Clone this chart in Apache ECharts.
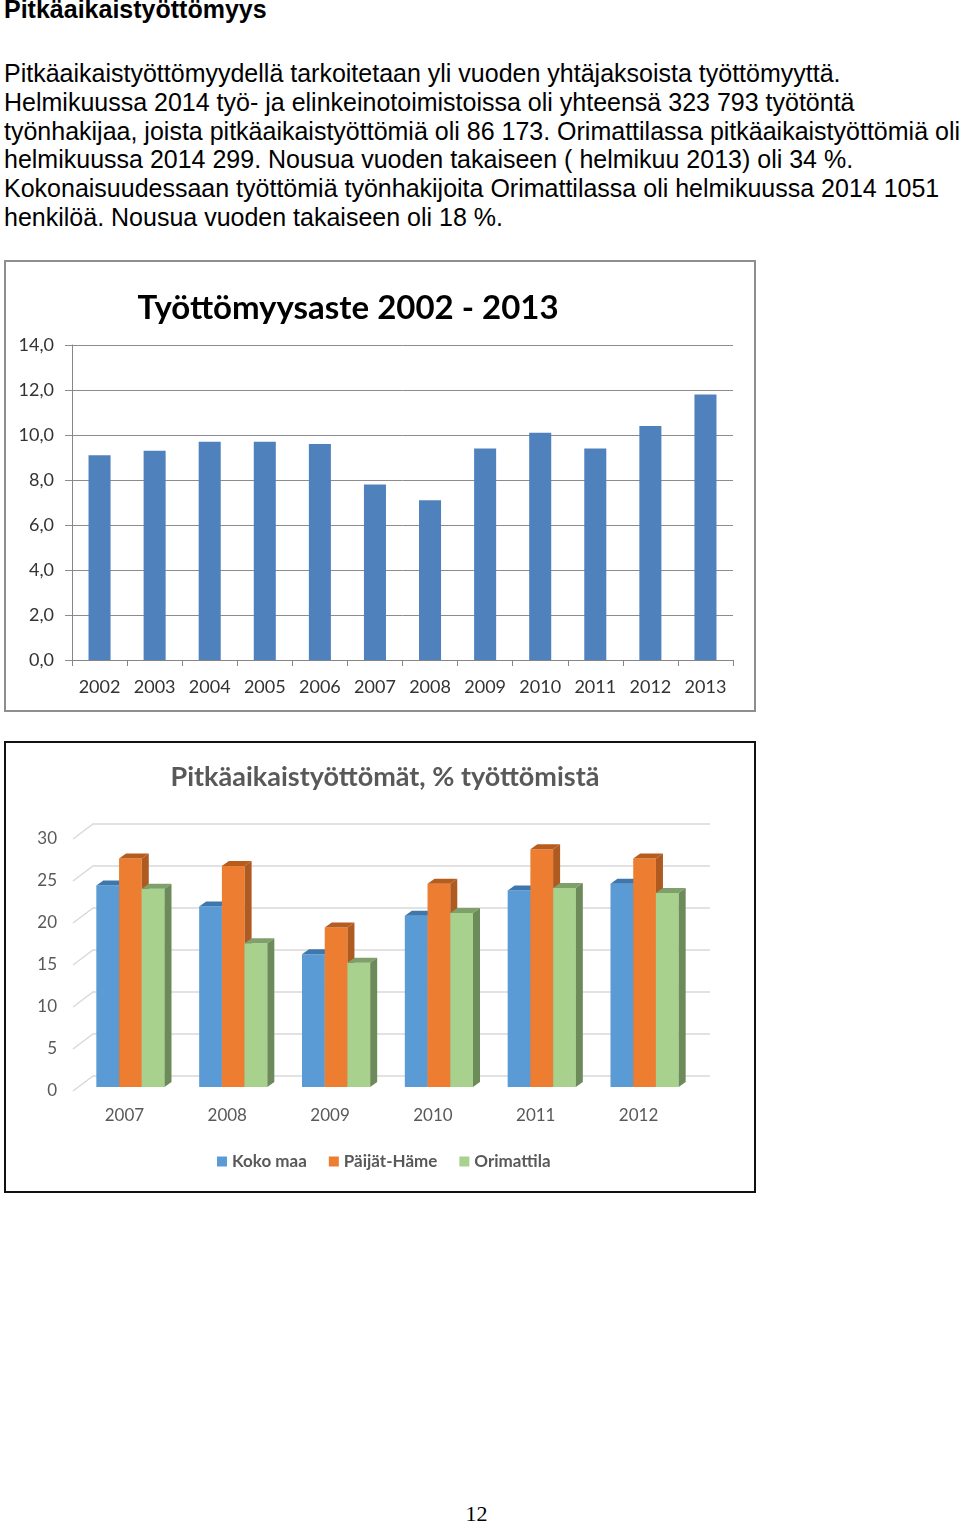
<!DOCTYPE html>
<html>
<head>
<meta charset="utf-8">
<script src="https://cdn.jsdelivr.net/npm/echarts@6/dist/echarts.min.js"></script>
<style>
  html, body { margin: 0; padding: 0; background: #fff; }
  body { width: 960px; height: 1524px; position: relative; overflow: hidden; }
  .doc { position: absolute; left: 4px; font-family: "Liberation Sans", Arial, sans-serif;
         font-size: 25px; line-height: 28.75px; color: #000; white-space: nowrap; }
  .box { position: absolute; box-sizing: border-box; }
  .chart { position: absolute; left: 0; top: 0; width: 748px; height: 448px; }
  .pnum { position: absolute; left: 0; width: 953px; top: 1501px; text-align: center;
          font-family: "Liberation Serif", "Times New Roman", serif; font-size: 22px; }
</style>
</head>
<body>
<div class="doc" style="top:-5px;font-weight:bold;">Pitkäaikaistyöttömyys</div>
<div class="doc" style="top:59px;">
  <div>Pitkäaikaistyöttömyydellä tarkoitetaan yli vuoden yhtäjaksoista työttömyyttä.</div>
  <div>Helmikuussa 2014 työ- ja elinkeinotoimistoissa oli yhteensä 323 793 työtöntä</div>
  <div>työnhakijaa, joista pitkäaikaistyöttömiä oli 86 173. Orimattilassa pitkäaikaistyöttömiä oli</div>
  <div>helmikuussa 2014 299. Nousua vuoden takaiseen ( helmikuu 2013) oli 34 %.</div>
  <div>Kokonaisuudessaan työttömiä työnhakijoita Orimattilassa oli helmikuussa 2014 1051</div>
  <div>henkilöä. Nousua vuoden takaiseen oli 18 %.</div>
</div>

<div class="box" style="left:4px;top:260px;width:752px;height:452px;border:2px solid #8e8e8e;">
  <div id="rateChart" class="chart"></div>
</div>
<div class="box" style="left:4px;top:741px;width:752px;height:452px;border:2px solid #111;">
  <div id="longChart" class="chart"></div>
</div>
<div class="pnum">12</div>

<script>
// työttömyysaste 2002 - 2013
var rateYears = ['2002', '2003', '2004', '2005', '2006', '2007', '2008', '2009', '2010', '2011', '2012', '2013'];
var rateValues = [9.1, 9.3, 9.7, 9.7, 9.6, 7.8, 7.1, 9.4, 10.1, 9.4, 10.4, 11.8];

// pitkäaikaistyöttömät, % työttömistä
var longYears = ['2007', '2008', '2009', '2010', '2011', '2012'];
var kokoMaa = [24.0, 21.5, 15.8, 20.4, 23.4, 24.2];
var paijatHame = [27.2, 26.3, 19.0, 24.2, 28.3, 27.2];
var orimattila = [23.6, 17.1, 14.8, 20.7, 23.7, 23.1];
var longTicks = [0, 5, 10, 15, 20, 25, 30];

var calibri = 'Lato, "Open Sans", sans-serif';

// ---- ensimmäinen kaavio ----
var rateChart = echarts.init(document.getElementById('rateChart'));
rateChart.setOption({
  animation: false,
  title: {
    text: 'Työttömyysaste 2002 - 2013',
    left: 337,
    textAlign: 'center',
    top: 25,
    textStyle: { fontFamily: calibri, fontSize: 33, fontWeight: 'bold', color: '#000' }
  },
  grid: { left: 66, top: 83, width: 661, height: 315 },
  xAxis: {
    type: 'category',
    data: rateYears,
    axisLine: { lineStyle: { color: '#868686' } },
    axisTick: { show: true, length: 6, lineStyle: { color: '#868686' } },
    axisLabel: { margin: 18, fontFamily: calibri, fontSize: 18, color: '#333' }
  },
  yAxis: {
    type: 'value',
    min: 0, max: 14, interval: 2,
    axisLine: { show: true, lineStyle: { color: '#868686' } },
    axisTick: { show: true, length: 7, lineStyle: { color: '#8c8c8c' } },
    splitLine: { lineStyle: { color: '#8c8c8c' } },
    axisLabel: {
      margin: 18, fontFamily: calibri, fontSize: 18, color: '#333',
      padding: [3, 0, 0, 0],
      formatter: function (v) { return v.toFixed(1).replace('.', ','); }
    }
  },
  series: [{
    type: 'bar',
    data: rateValues,
    barWidth: '40%',
    itemStyle: { color: '#4F81BD' }
  }]
});

// ---- toinen kaavio (3D-pylväät) ----
var BAR_RATIO = 0.221;   // yhden pylvään leveys kategoriasta
var SHIFT_X = 6, SHIFT_Y = -4;   // pylväiden taso etutasosta
var DX = 7, DY = -5;     // pylvään syvyys
var WALL_DX = 20, WALL_DY = -15; // takaseinä

function bar3d(s, front, top, side) {
  return function (params, api) {
    var base = api.coord([api.value(0), 0]);
    var tip = api.coord([api.value(0), api.value(1)]);
    var bw = api.size([1, 0])[0] * BAR_RATIO;
    var x = base[0] + SHIFT_X + (s - 1.5) * bw;
    var yb = base[1] + SHIFT_Y;
    var yt = tip[1] + SHIFT_Y;
    return {
      type: 'group',
      children: [
        { type: 'rect', shape: { x: x, y: yt, width: bw, height: yb - yt }, style: { fill: front } },
        { type: 'polygon', shape: { points: [[x, yt], [x + bw, yt], [x + bw + DX, yt + DY], [x + DX, yt + DY]] }, style: { fill: top } },
        { type: 'polygon', shape: { points: [[x + bw, yt], [x + bw + DX, yt + DY], [x + bw + DX, yb + DY], [x + bw, yb]] }, style: { fill: side } }
      ]
    };
  };
}

function wallLine(params, api) {
  var cs = params.coordSys;
  var y = api.coord([0, api.value(1)])[1];
  return {
    type: 'polyline',
    shape: { points: [[cs.x, y], [cs.x + WALL_DX, y + WALL_DY], [cs.x + cs.width + WALL_DX, y + WALL_DY]] },
    style: { stroke: '#d9d9d9', lineWidth: 1.4, fill: null }
  };
}

function pairs(arr) {
  return arr.map(function (v, i) { return [i, v]; });
}

var longChart = echarts.init(document.getElementById('longChart'));
longChart.setOption({
  animation: false,
  title: {
    text: 'Pitkäaikaistyöttömät, % työttömistä',
    left: 374,
    textAlign: 'center',
    top: 16,
    textStyle: { fontFamily: calibri, fontSize: 27, fontWeight: 'bold', color: '#595959' }
  },
  legend: {
    data: ['Koko maa', 'Päijät-Häme', 'Orimattila'],
    left: 206,
    top: 405,
    icon: 'rect',
    itemWidth: 10,
    itemHeight: 10,
    itemGap: 22,
    textStyle: { fontFamily: calibri, fontSize: 17, fontWeight: 'bold', color: '#595959' }
  },
  grid: { left: 67, top: 96, width: 617, height: 252 },
  xAxis: {
    type: 'category',
    data: longYears,
    axisLine: { show: false },
    axisTick: { show: false },
    axisLabel: { margin: 16, fontFamily: calibri, fontSize: 17, color: '#595959' }
  },
  yAxis: {
    type: 'value',
    min: 0, max: 30, interval: 5,
    axisLine: { show: false },
    axisTick: { show: false },
    splitLine: { show: false },
    axisLabel: { margin: 16, fontFamily: calibri, fontSize: 17, color: '#595959', padding: [3, 0, 0, 0] }
  },
  series: [
    {
      name: 'seinä', type: 'custom', z: 1, silent: true,
      data: longTicks.map(function (t) { return [0, t]; }),
      renderItem: wallLine
    },
    {
      name: 'Koko maa', type: 'custom', z: 2,
      itemStyle: { color: '#5B9BD5' },
      data: pairs(kokoMaa),
      renderItem: bar3d(0, '#5B9BD5', '#3D77AD', '#41719C')
    },
    {
      name: 'Päijät-Häme', type: 'custom', z: 3,
      itemStyle: { color: '#ED7D31' },
      data: pairs(paijatHame),
      renderItem: bar3d(1, '#ED7D31', '#B85C1E', '#AE5A21')
    },
    {
      name: 'Orimattila', type: 'custom', z: 4,
      itemStyle: { color: '#A9D18E' },
      data: pairs(orimattila),
      renderItem: bar3d(2, '#A9D18E', '#7FA06A', '#6D8B5A')
    }
  ]
});
</script>
</body>
</html>
